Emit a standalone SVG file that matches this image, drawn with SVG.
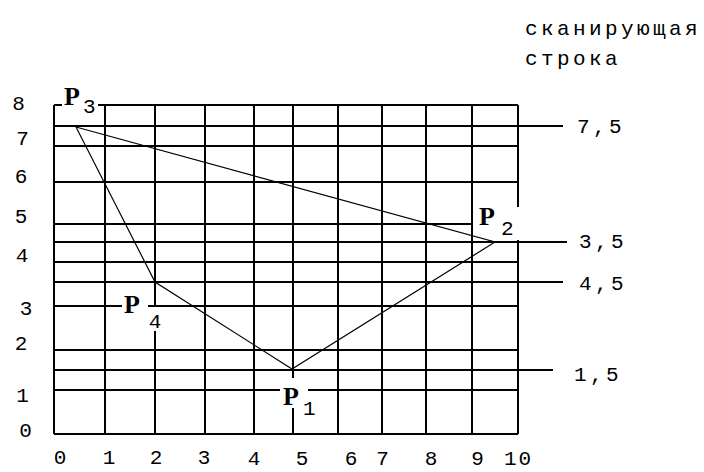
<svg xmlns="http://www.w3.org/2000/svg" width="704" height="472" viewBox="0 0 704 472">
<style>
.g{stroke:#000;stroke-width:2;fill:none}
.t{stroke:#000;stroke-width:1.2;fill:none}
.n{font-family:"Liberation Mono","Courier New",monospace;font-size:21px;fill:#000}
.c{text-anchor:middle}
.r{letter-spacing:3.4px}
.p{font-family:"Liberation Serif","Times New Roman",serif;font-weight:bold;font-size:26px;fill:#000}
</style>
<rect width="704" height="472" fill="#fff"/>
<g id="grid" class="g">
<path d="M54,105H62M98,105H518"/>
<path d="M54,105V434M518,105V207M518,240V434"/>
<path d="M105,105V434M155,105V306M155,331V434M205,105V434M254,105V434M293,105V378M293,408V434M338,105V434M382,105V434M426,105V434M472,105V434"/>
<path d="M54,126H563M54,146H518M54,182H518M54,224H473M54,242H567M54,262H518M54,282H563M54,306H122M148,306H518M54,350H518M54,370H553M54,390H280M308,390H518M54,434H518"/>
</g>
<g id="connectors" class="t">
<path d="M76,127L495,242L292,369L155,282Z"/>
</g>
<g id="y-axis" class="n c">
<text x="18.5" y="110">8</text>
<text x="22.5" y="145">7</text>
<text x="21" y="183">6</text>
<text x="21" y="223">5</text>
<text x="22" y="262">4</text>
<text x="26" y="315">3</text>
<text x="21" y="350">2</text>
<text x="22.5" y="402">1</text>
<text x="25.5" y="437">0</text>
</g>
<g id="x-axis" class="n c">
<text x="60" y="464">0</text>
<text x="109" y="464">1</text>
<text x="156" y="464">2</text>
<text x="204" y="464">3</text>
<text x="254" y="465">4</text>
<text x="302" y="465">5</text>
<text x="351" y="465">6</text>
<text x="382.5" y="465">7</text>
<text x="431" y="465">8</text>
<text x="477.5" y="465">9</text>
<text x="504" y="465" style="text-anchor:start;letter-spacing:2px">10</text>
</g>
<g id="scanlines" class="n r">
<text x="577" y="133">7,5</text>
<text x="579" y="248">3,5</text>
<text x="579" y="290">4,5</text>
<text x="574" y="381">1,5</text>
<text x="525" y="35">сканирующая</text>
<text x="525" y="65">строка</text>
</g>
<g id="P3"><text class="p" x="64" y="105">P</text><text class="n" x="83" y="113">3</text></g>
<g id="P2"><text class="p" x="479" y="225">P</text><text class="n" x="501" y="235">2</text></g>
<g id="P4"><text class="p" x="124" y="313">P</text><text class="n c" x="155" y="328">4</text></g>
<g id="P1"><text class="p" x="283" y="405">P</text><text class="n" x="303" y="415">1</text></g>
</svg>
